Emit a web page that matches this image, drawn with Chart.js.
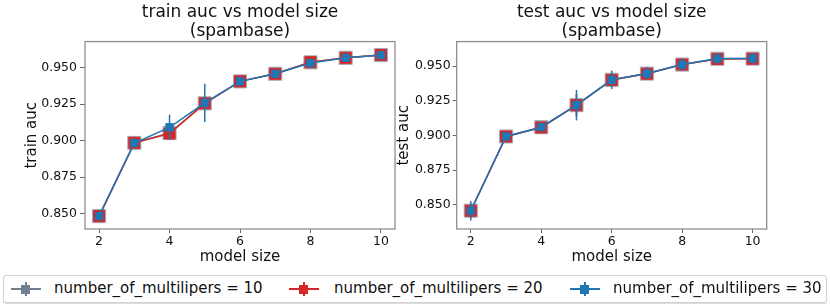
<!DOCTYPE html>
<html>
<head>
<meta charset="UTF-8">
<title>auc vs model size (spambase)</title>
<script src="https://cdn.jsdelivr.net/npm/chart.js"></script>
<style>
    body { margin: 0; background: #fff; font-family: 'DejaVu Sans', sans-serif; }
    #wrap { position: relative; width: 830px; height: 308px; overflow: hidden; }
    .box { position: absolute; top: 0; height: 268px; }
    /* legend */
    .legend {
        position: absolute; left: 3px; top: 275px; width: 822px; height: 26px;
        border: 1px solid #d0d0d0; border-radius: 3px;
        box-shadow: 0 1px 1px rgba(0,0,0,0.15);
    }
    .item { position: absolute; top: 0; height: 26px; }
    .icon { position: absolute; top: 0; width: 30px; height: 26px; }
    .icon .h { position: absolute; left: 0; top: 12px; width: 30px; height: 1.5px; }
    .icon .v { position: absolute; left: 14px; top: 6px; width: 1.5px; height: 14px; }
    .icon .sq { position: absolute; left: 10px; top: 9px; width: 9px; height: 9px; }
    .lbl { position: absolute; top: 3px; font-size: 15px; color: #111; white-space: nowrap; }
</style>
</head>
<body>
<div id="wrap">
    <div class="box" style="left:0; width:410px;"><canvas id="trainChart"></canvas></div>
    <div class="box" style="left:385px; width:445px;"><canvas id="testChart"></canvas></div>

    <div class="legend" id="legend"></div>
</div>

<script>
// --- data ---
const modelSizes = [2, 3, 4, 5, 6, 7, 8, 9, 10];
const seriesNames = ['number_of_multilipers = 10', 'number_of_multilipers = 20', 'number_of_multilipers = 30'];

// train auc
const trainAuc10 = [0.8484, 0.8984, 0.9052, 0.9255, 0.9405, 0.9457, 0.9535, 0.9566, 0.9585];
const trainAuc20 = [0.8484, 0.8985, 0.9049, 0.9255, 0.9405, 0.9457, 0.9536, 0.9566, 0.9585];
const trainAuc30 = [0.8484, 0.8984, 0.9091, 0.9258, 0.9405, 0.9457, 0.9530, 0.9566, 0.9584];
const trainErr10 = [0.001, 0.001, 0.002, 0.003, 0.001, 0.001, 0.004, 0.001, 0.001];
const trainErr20 = [0.001, 0.001, 0.002, 0.002, 0.001, 0.001, 0.002, 0.001, 0.001];
const trainErr30 = [0.001, 0.001, 0.0087, 0.013, 0.001, 0.001, 0.003, 0.001, 0.001];

// test auc
const testAuc10 = [0.8457, 0.8993, 0.9060, 0.9219, 0.9402, 0.9447, 0.9512, 0.9554, 0.9555];
const testAuc20 = [0.8457, 0.8993, 0.9058, 0.9219, 0.9401, 0.9446, 0.9512, 0.9553, 0.9554];
const testAuc30 = [0.8457, 0.8993, 0.9060, 0.9219, 0.9402, 0.9447, 0.9512, 0.9555, 0.9556];
const testErr10 = [0.005, 0.002, 0.002, 0.008, 0.005, 0.004, 0.004, 0.003, 0.003];
const testErr20 = [0.005, 0.002, 0.002, 0.008, 0.005, 0.004, 0.004, 0.003, 0.003];
const testErr30 = [0.007, 0.002, 0.002, 0.011, 0.0067, 0.0045, 0.0045, 0.004, 0.004];

const yTickValues = [0.850, 0.875, 0.900, 0.925, 0.950];

const colors = ['#708090', '#d62728', '#1f77b4'];
const markerFill = ['rgba(130,145,165,0.65)', '#d62728', '#1f77b4'];
const markerRadius = [9.3, 7.8, 5.2];

Chart.defaults.font.family = "'DejaVu Sans', sans-serif";
Chart.defaults.color = '#111';

// vertical error bars, drawn just before each dataset so layering follows the series
const errorBars = {
    id: 'errorBars',
    beforeDatasetDraw(chart, args) {
        const ds = chart.data.datasets[args.index];
        if (!ds.err) return;
        const y = chart.scales.y;
        const ctx = chart.ctx;
        ctx.save();
        ctx.strokeStyle = ds.borderColor;
        ctx.lineWidth = 1.5;
        args.meta.data.forEach((pt, i) => {
            const v = ds.data[i].y;
            ctx.beginPath();
            ctx.moveTo(pt.x, y.getPixelForValue(v - ds.err[i]));
            ctx.lineTo(pt.x, y.getPixelForValue(v + ds.err[i]));
            ctx.stroke();
        });
        ctx.restore();
    }
};

// full box around the plot area (matplotlib spines)
const frame = {
    id: 'frame',
    beforeDatasetsDraw(chart) {
        const a = chart.chartArea;
        const ctx = chart.ctx;
        ctx.save();
        ctx.strokeStyle = '#8f8f8f';
        ctx.lineWidth = 1.3;
        ctx.strokeRect(a.left, a.top, a.right - a.left, a.bottom - a.top);
        ctx.restore();
    }
};

function makeChart(id, title, yLabel, values, errs, yMin, yMax, axisWidth, yTitlePad, padRight, tickLen, tickPad) {
    const datasets = values.map((vals, k) => ({
        label: seriesNames[k],
        data: modelSizes.map((s, i) => ({ x: s, y: vals[i] })),
        err: errs[k],
        borderColor: colors[k],
        backgroundColor: colors[k],
        borderWidth: 1.5,
        pointStyle: 'rect',
        pointRadius: markerRadius[k],
        pointBackgroundColor: markerFill[k],
        pointBorderColor: markerFill[k],
        pointBorderWidth: 1,
        order: 3 - k
    }));

    return new Chart(document.getElementById(id), {
        type: 'line',
        data: { datasets: datasets },
        options: {
            responsive: true,
            maintainAspectRatio: false,
            animation: false,
            layout: { padding: { left: 0, right: padRight, top: 0, bottom: 0 } },
            plugins: {
                legend: { display: false },
                tooltip: { enabled: false },
                title: {
                    display: true,
                    text: [title, '(spambase)'],
                    fullSize: false,
                    color: '#111',
                    font: { size: 17, weight: 'normal', lineHeight: 1.12 },
                    padding: { top: 3.5, bottom: 0 }
                }
            },
            scales: {
                x: {
                    type: 'linear',
                    min: 1.6,
                    max: 10.4,
                    border: { display: false },
                    grid: { drawOnChartArea: false, drawTicks: true, tickLength: 4, color: '#666' },
                    ticks: { stepSize: 2, includeBounds: false, padding: 1, font: { size: 12.5 }, color: '#111' },
                    title: { display: true, text: 'model size', font: { size: 15 }, color: '#111', padding: { top: 0, bottom: 2 } },
                    afterFit(scale) { scale.height = 39; }
                },
                y: {
                    type: 'linear',
                    min: yMin,
                    max: yMax,
                    border: { display: false },
                    grid: { drawOnChartArea: false, drawTicks: true, tickLength: tickLen, color: '#666' },
                    afterBuildTicks(scale) { scale.ticks = yTickValues.map(v => ({ value: v })); },
                    ticks: {
                        padding: tickPad,
                        font: { size: 12.5 },
                        color: '#111',
                        callback: v => Number(v).toFixed(3)
                    },
                    title: { display: true, text: yLabel, font: { size: 15 }, color: '#111', padding: { top: yTitlePad, bottom: 0 } },
                    afterFit(scale) { scale.width = axisWidth; }
                }
            }
        },
        plugins: [frame, errorBars]
    });
}

makeChart('trainChart', 'train auc vs model size', 'train auc',
    [trainAuc10, trainAuc20, trainAuc30], [trainErr10, trainErr20, trainErr30],
    0.8396, 0.9677, 85, 23, 15, 5, 3);

makeChart('testChart', 'test auc vs model size', 'test auc',
    [testAuc10, testAuc20, testAuc30], [testErr10, testErr20, testErr30],
    0.8325, 0.9678, 71.7, 10, 63.3, 4, 2);

// --- legend ---
const legendPos = [{ icon: 7, text: 50 }, { icon: 285, text: 330 }, { icon: 566, text: 609 }];
const legend = document.getElementById('legend');
seriesNames.forEach((name, k) => {
    const item = document.createElement('div');
    item.className = 'item';
    item.innerHTML = `
        <div class="icon" style="left:${legendPos[k].icon}px">
            <div class="h" style="background:${colors[k]}"></div>
            <div class="v" style="background:${colors[k]}"></div>
            <div class="sq" style="background:${colors[k]}"></div>
        </div>
        <div class="lbl" style="left:${legendPos[k].text}px">${name}</div>`;
    legend.appendChild(item);
});
</script>
</body>
</html>
